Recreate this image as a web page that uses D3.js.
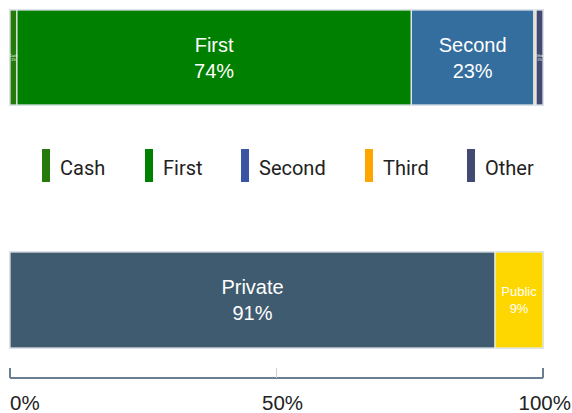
<!DOCTYPE html>
<html>
<head>
<meta charset="utf-8">
<script src="https://cdn.jsdelivr.net/npm/d3@7"></script>
<style>
  body { margin: 0; background: #fff; }
  svg { display: block; }
  .segLabel { font-family: "Liberation Sans", Arial, sans-serif; fill: #fff; }
  .legendText { font-family: Roboto, "Liberation Sans", sans-serif; font-size: 20px; fill: #222; }
  .tickText { font-family: "Liberation Sans", Arial, sans-serif; font-size: 20.5px; fill: #222; }
</style>
</head>
<body>
<svg id="chart"></svg>
<script>
// top bar: lien position
const positionNames = ["Cash", "First", "Second", "Third", "Other"];
const positionValues = [1.3, 74, 23, 0.4, 1.3];
const positionBarColors = ["#267a0c", "#008000", "#336e9e", "#e8c98a", "#424a72"];
const legendColors = ["#267a0c", "#008000", "#3a55a4", "#ffa500", "#424a72"];

// bottom bar: ownership
const ownerNames = ["Private", "Public"];
const ownerValues = [91, 9];
const ownerColors = ["#3f5b70", "#ffd700"];

const tickValues = [0, 50, 100];

const width = 572;
const height = 413;
const margin = { left: 10, right: 29 };

const svg = d3.select("#chart").attr("width", width).attr("height", height);

const x = d3.scaleLinear().domain([0, 100]).range([margin.left, width - margin.right]);

const drawBar = (names, values, colors, y0, h) => {
  const rows = names.map((n, i) => ({ name: n, value: values[i], color: colors[i] }));
  let acc = 0;
  rows.forEach((d) => { d.x0 = acc; acc += d.value; d.x1 = acc; });

  const g = svg.append("g");
  g.append("rect")
    .attr("x", x(0) - 0.5)
    .attr("y", y0 - 0.5)
    .attr("width", x(100) - x(0) + 1)
    .attr("height", h + 1)
    .attr("fill", "none")
    .attr("stroke", "#c9d3e0")
    .attr("stroke-width", 1);

  g.selectAll("rect.seg")
    .data(rows)
    .join("rect")
    .attr("class", "seg")
    .attr("x", (d) => x(d.x0))
    .attr("y", y0)
    .attr("width", (d) => x(d.x1) - x(d.x0))
    .attr("height", h)
    .attr("fill", (d) => d.color)
    .attr("stroke", "#e8ecf0")
    .attr("stroke-width", 1.2);

  rows.forEach((d) => {
    const w = x(d.x1) - x(d.x0);
    if (w < 4) return;
    const fs = Math.max(3.2, Math.min(20, w / 3.7));
    const cx = (x(d.x0) + x(d.x1)) / 2;
    const cy = y0 + h / 2;
    const t = g.append("text")
      .attr("class", "segLabel")
      .attr("text-anchor", "middle")
      .attr("font-size", fs + "px");
    t.append("tspan").attr("x", cx).attr("y", cy - fs * 0.28).text(d.name);
    t.append("tspan").attr("x", cx).attr("y", cy + fs * 1.02).text(Math.round(d.value) + "%");
  });
};

drawBar(positionNames, positionValues, positionBarColors, 10, 95);
drawBar(ownerNames, ownerValues, ownerColors, 252, 96);

// legend
const legendX = [42, 145, 241, 365, 467];
const legend = svg.append("g");
positionNames.forEach((n, i) => {
  legend.append("rect")
    .attr("x", legendX[i]).attr("y", 149)
    .attr("width", 8).attr("height", 33)
    .attr("fill", legendColors[i]);
  legend.append("text")
    .attr("class", "legendText")
    .attr("x", legendX[i] + 18).attr("y", 175)
    .text(n);
});

// axis
const axisY = 378;
const axis = svg.append("g");
axis.append("line")
  .attr("x1", x(0)).attr("x2", x(100))
  .attr("y1", axisY).attr("y2", axisY)
  .attr("stroke", "#6b7f92").attr("stroke-width", 2);
axis.selectAll("line.tick")
  .data(tickValues)
  .join("line")
  .attr("class", "tick")
  .attr("x1", (d) => x(d)).attr("x2", (d) => x(d))
  .attr("y1", axisY - 10).attr("y2", axisY)
  .attr("stroke", (d) => (d === 50 ? "#c8d0d8" : "#6b7f92"))
  .attr("stroke-width", (d) => (d === 50 ? 1 : 2));
axis.selectAll("text")
  .data(tickValues)
  .join("text")
  .attr("class", "tickText")
  .attr("x", (d) => (d === 0 ? x(d) : d === 50 ? x(d) + 6 : x(d) + 28))
  .attr("y", 410)
  .attr("text-anchor", (d) => (d === 0 ? "start" : d === 50 ? "middle" : "end"))
  .text((d) => d + "%");
</script>
</body>
</html>
